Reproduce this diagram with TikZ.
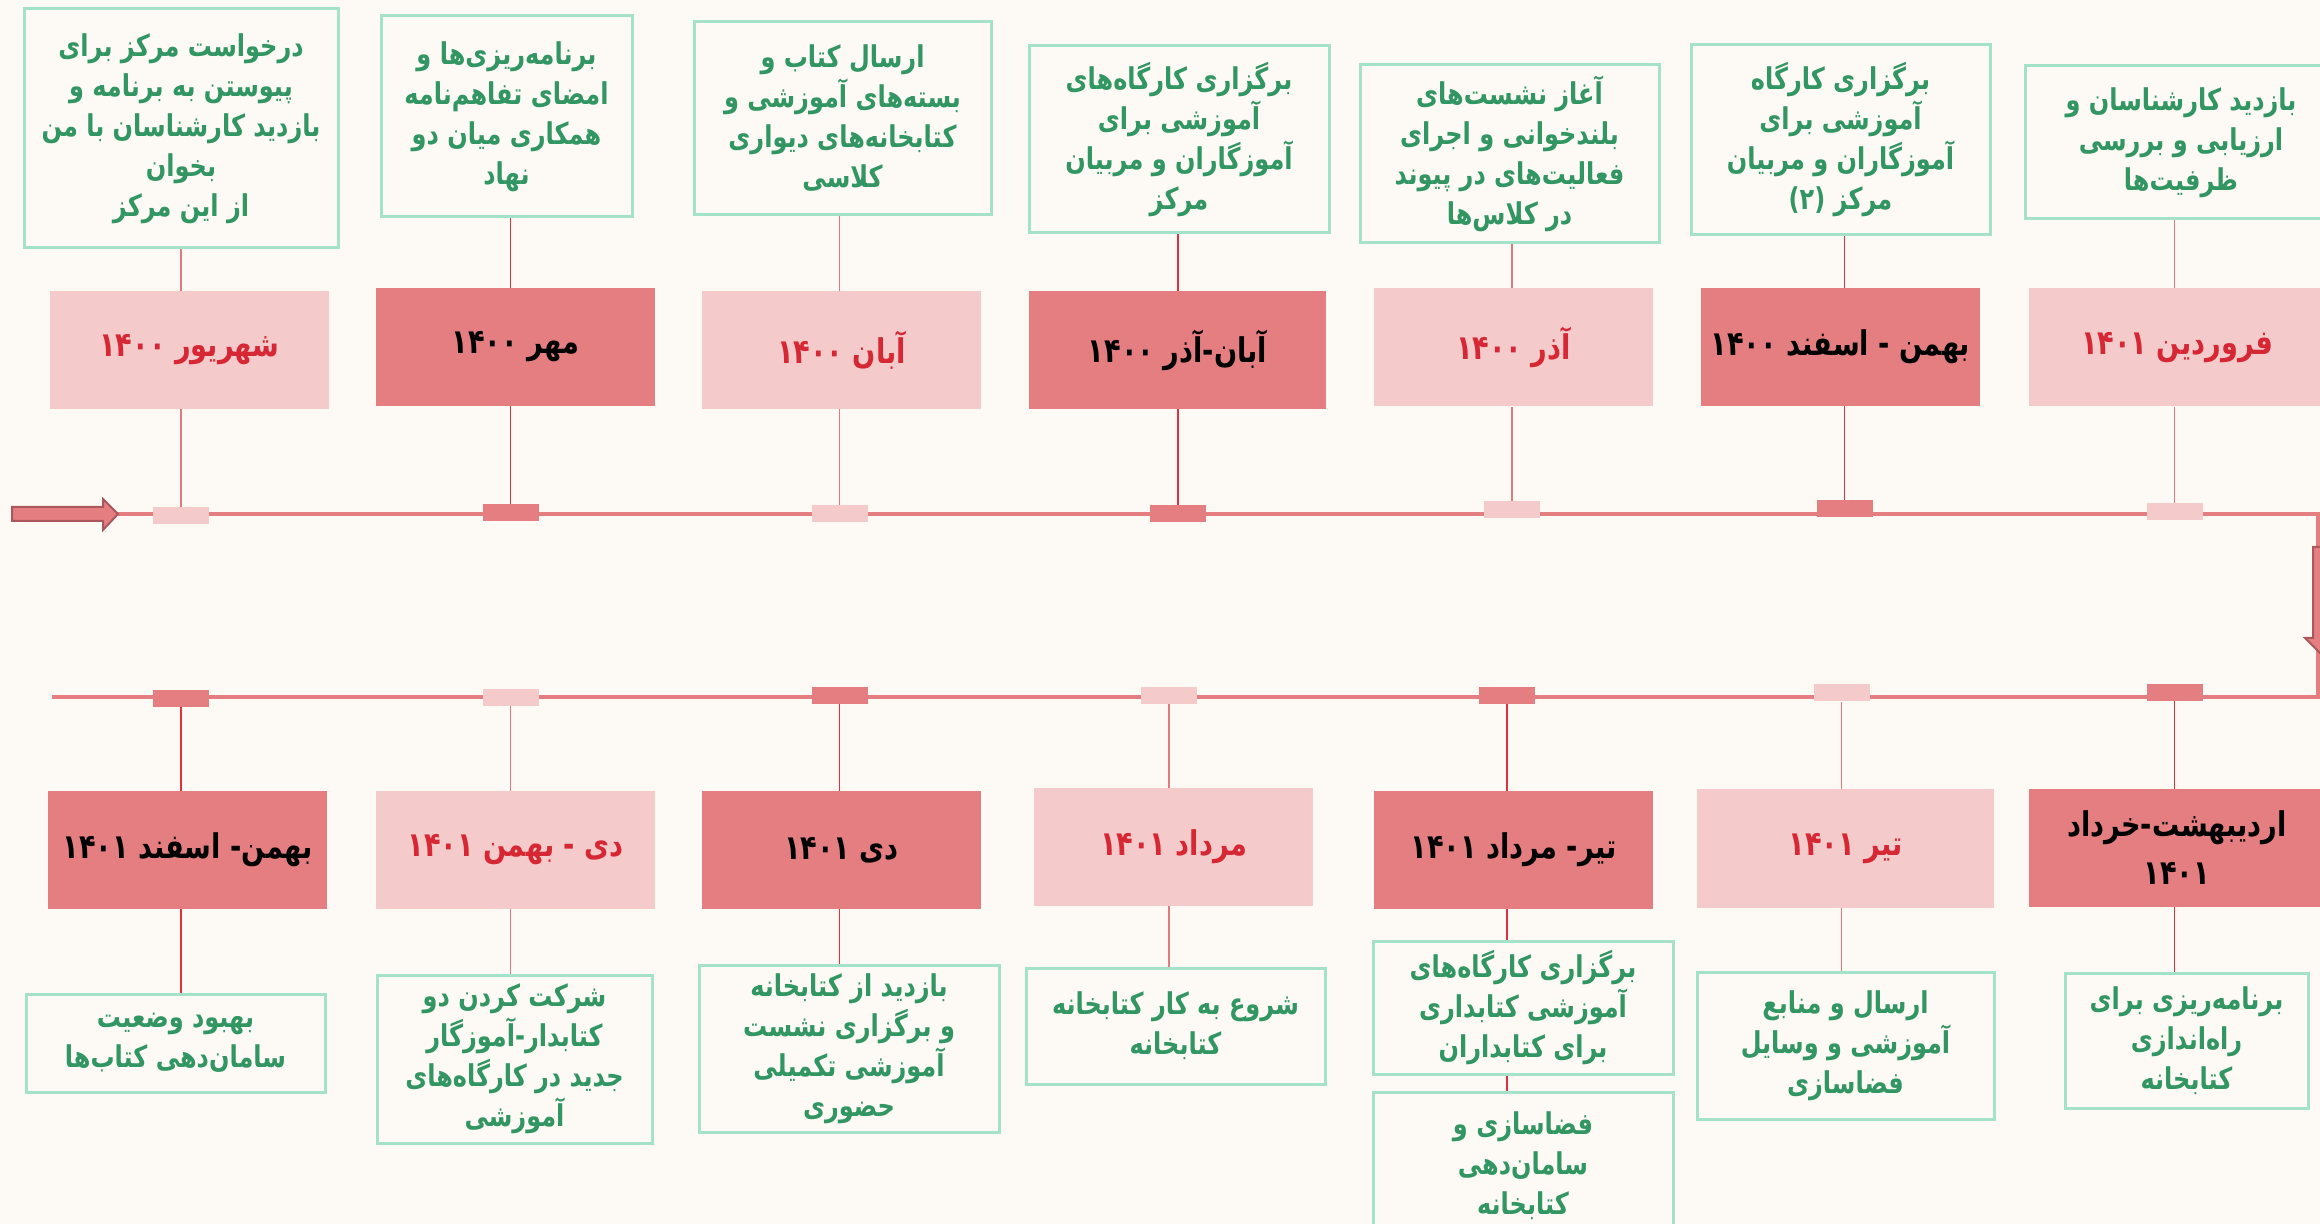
\documentclass[tikz,border=0pt]{standalone}
\usepackage{fontspec}
\usepackage{tikz}
\usetikzlibrary{calc}
\newfontfamily\fafont[Script=Arabic,FakeStretch=0.8]{DejaVu Sans}
\TeXXeTstate=1
\definecolor{paper}{RGB}{253,250,246}
\definecolor{rosedark}{RGB}{228,126,129}
\definecolor{roselight}{RGB}{245,202,203}
\definecolor{mint}{RGB}{164,226,201}
\definecolor{leaf}{RGB}{50,150,98}
\definecolor{crimson}{RGB}{214,40,52}
\definecolor{linkred}{RGB}{222,50,62}
\definecolor{linkpink}{RGB}{224,122,128}
\definecolor{arrowedge}{RGB}{170,88,92}
\newcommand{\pers}[1]{{\fafont\beginR #1\endR}}

\begin{document}
\begin{tikzpicture}[x=0.5pt,y=-0.5pt,
    note/.style={draw=mint,line width=1.5pt,fill=paper,text=leaf,align=center,inner sep=2pt,font=\fafont\bfseries\fontsize{15}{20}\selectfont},
    monthdark/.style={fill=rosedark,minimum width=139.5pt,minimum height=59pt,inner sep=0pt,align=center,font=\fafont\bfseries\fontsize{17}{24}\selectfont},
    monthlight/.style={monthdark,fill=roselight,text=crimson},
    mkdark/.style={fill=rosedark,minimum width=28pt,minimum height=8.5pt,inner sep=0pt},
    mklight/.style={mkdark,fill=roselight},
    linkdark/.style={draw=linkred,line width=0.7pt},
    linklight/.style={draw=linkpink,line width=0.7pt},
    timeline/.style={draw=rosedark,line width=2.4pt},
    bigarrow/.style={fill=rosedark,draw=arrowedge,line width=1pt}]
                                      \useasboundingbox (0,0) rectangle (2320,1224);
                                      \fill[paper] (0,0) rectangle (2320,1224);
                                      \coordinate (tip) at (118,514);
                                      \coordinate (turna) at (2318,514);
                                      \coordinate (turnb) at (2318,697);
                                      \coordinate (lineend) at (52,697);
                                      \draw[timeline] (tip) -- (turna) -- (turnb) -- (lineend);
                                      \draw[bigarrow] (12,507) -- (103,507) -- (103,499) -- (tip) -- (103,530) -- (103,521) -- (12,521) -- cycle;
                                      \draw[bigarrow] (2313,547) -- (2327,547) -- (2327,638) -- (2335,638) -- (2320,653) -- (2305,638) -- (2313,638) -- cycle;
                                      \node[note,minimum width=157pt,minimum height=119.5pt](t1)at(181,128.5){\pers{درخواست مرکز برای}\\\pers{پیوستن به برنامه و}\\\pers{بازدید کارشناسان با من}\\\pers{بخوان}\\\pers{از این مرکز}};
                                      \node[note,minimum width=125.5pt,minimum height=100.5pt](t2)at(506.5,116.5){\pers{برنامه‌ریزی‌ها و}\\\pers{امضای تفاهم‌نامه}\\\pers{همکاری میان دو}\\\pers{نهاد}};
                                      \node[note,minimum width=148.5pt,minimum height=96.5pt](t3)at(842.5,118.5){\pers{ارسال کتاب و}\\\pers{بسته‌های آموزشی و}\\\pers{کتابخانه‌های دیواری}\\\pers{کلاسی}};
                                      \node[note,minimum width=150pt,minimum height=93.5pt](t4)at(1179,139.5){\pers{برگزاری کارگاه‌های}\\\pers{آموزشی برای}\\\pers{آموزگاران و مربیان}\\\pers{مرکز}};
                                      \node[note,minimum width=149.5pt,minimum height=89pt](t5)at(1509.5,154){\pers{آغاز نشست‌های}\\\pers{بلندخوانی و اجرای}\\\pers{فعالیت‌های در پیوند}\\\pers{در کلاس‌ها}};
                                      \node[note,minimum width=149.5pt,minimum height=95pt](t6)at(1840.5,140){\pers{برگزاری کارگاه}\\\pers{آموزشی برای}\\\pers{آموزگاران و مربیان}\\\pers{مرکز (۲)}};
                                      \node[note,minimum width=156pt,minimum height=76.5pt](t7)at(2181,142.5){\pers{بازدید کارشناسان و}\\\pers{ارزیابی و بررسی}\\\pers{ظرفیت‌ها}};
                                      \node[monthlight](m1)at(189.5,350){\pers{شهریور ۱۴۰۰}};
                                      \node[monthdark](m2)at(515.5,347){\pers{مهر ۱۴۰۰}};
                                      \node[monthlight](m3)at(841.5,350){\pers{آبان ۱۴۰۰}};
                                      \node[monthdark,minimum width=148.5pt](m4)at(1177.5,350){\pers{آبان-آذر ۱۴۰۰}};
                                      \node[monthlight](m5)at(1513.5,347.5){\pers{آذر ۱۴۰۰}};
                                      \node[monthdark](m6)at(1840.5,347){\pers{بهمن - اسفند ۱۴۰۰}};
                                      \node[monthlight,minimum width=148pt](m7)at(2177,347.5){\pers{فروردین ۱۴۰۱}};
                                      \node[mklight](mk1)at(181,515.5){};
                                      \node[mkdark](mk2)at(510.5,512.5){};
                                      \node[mklight](mk3)at(839.5,513.5){};
                                      \node[mkdark](mk4)at(1178,513.5){};
                                      \node[mklight](mk5)at(1512,510){};
                                      \node[mkdark](mk6)at(1844.5,509){};
                                      \node[mklight](mk7)at(2174.5,512){};
                                      \draw[linklight](mk1.north|-t1.south)--(mk1.north|-m1.north);
                                      \draw[linklight](mk1.north|-m1.south)--(mk1.north);
                                      \draw[linkdark](mk2.north|-t2.south)--(mk2.north|-m2.north);
                                      \draw[linkdark](mk2.north|-m2.south)--(mk2.north);
                                      \draw[linklight](mk3.north|-t3.south)--(mk3.north|-m3.north);
                                      \draw[linklight](mk3.north|-m3.south)--(mk3.north);
                                      \draw[linkdark](mk4.north|-t4.south)--(mk4.north|-m4.north);
                                      \draw[linkdark](mk4.north|-m4.south)--(mk4.north);
                                      \draw[linklight](mk5.north|-t5.south)--(mk5.north|-m5.north);
                                      \draw[linklight](mk5.north|-m5.south)--(mk5.north);
                                      \draw[linkdark](mk6.north|-t6.south)--(mk6.north|-m6.north);
                                      \draw[linkdark](mk6.north|-m6.south)--(mk6.north);
                                      \draw[linklight](mk7.north|-t7.south)--(mk7.north|-m7.north);
                                      \draw[linklight](mk7.north|-m7.south)--(mk7.north);
                                      \node[monthdark](mb1)at(187.5,850){\pers{بهمن- اسفند ۱۴۰۱}};
                                      \node[monthlight](mb2)at(515.5,850){\pers{دی - بهمن ۱۴۰۱}};
                                      \node[monthdark](mb3)at(841.5,850){\pers{دی ۱۴۰۱}};
                                      \node[monthlight](mb4)at(1173.5,847){\pers{مرداد ۱۴۰۱}};
                                      \node[monthdark](mb5)at(1513.5,850){\pers{تیر- مرداد ۱۴۰۱}};
                                      \node[monthlight,minimum width=148.5pt](mb6)at(1845.5,848.5){\pers{تیر ۱۴۰۱}};
                                      \node[monthdark,minimum width=148pt](mb7)at(2177,848){\pers{اردیبهشت-خرداد}\\\pers{۱۴۰۱}};
                                      \node[note,minimum width=149.5pt,minimum height=49pt](d1)at(175.5,1043){\pers{بهبود وضعیت}\\\pers{سامان‌دهی کتاب‌ها}};
                                      \node[note,minimum width=137.5pt,minimum height=84pt](d2)at(514.5,1059){\pers{شرکت کردن دو}\\\pers{کتابدار-آموزگار}\\\pers{جدید در کارگاه‌های}\\\pers{آموزشی}};
                                      \node[note,minimum width=150pt,minimum height=83.5pt](d3)at(849,1048.5){\pers{بازدید از کتابخانه}\\\pers{و برگزاری نشست}\\\pers{آموزشی تکمیلی}\\\pers{حضوری}};
                                      \node[note,minimum width=149.5pt,minimum height=58pt](d4)at(1175.5,1026){\pers{شروع به کار کتابخانه}\\\pers{کتابخانه}};
                                      \node[note,minimum width=150pt,minimum height=66.5pt](d5)at(1523,1007.5){\pers{برگزاری کارگاه‌های}\\\pers{آموزشی کتابداری}\\\pers{برای کتابداران}};
                                      \node[note,minimum width=150pt,minimum height=74pt](d6)at(1523,1166){\pers{فضاسازی و}\\\pers{سامان‌دهی}\\\pers{کتابخانه}};
                                      \node[note,minimum width=148.5pt,minimum height=73.5pt](d7)at(1845.5,1045.5){\pers{ارسال و منابع}\\\pers{آموزشی و وسایل}\\\pers{فضاسازی}};
                                      \node[note,minimum width=121.5pt,minimum height=67.5pt](d8)at(2186.5,1040.5){\pers{برنامه‌ریزی برای}\\\pers{راه‌اندازی}\\\pers{کتابخانه}};
                                      \node[mkdark](mkb1)at(181,698.5){};
                                      \node[mklight](mkb2)at(510.5,697.5){};
                                      \node[mkdark](mkb3)at(839.5,695.5){};
                                      \node[mklight](mkb4)at(1169,695.5){};
                                      \node[mkdark](mkb5)at(1507,695.5){};
                                      \node[mklight](mkb6)at(1841.5,693){};
                                      \node[mkdark](mkb7)at(2174.5,692.5){};
                                      \draw[linkdark](mkb1.south)--(mkb1.south|-mb1.north);
                                      \draw[linkdark](mkb1.south|-mb1.south)--(mkb1.south|-d1.north);
                                      \draw[linklight](mkb2.south)--(mkb2.south|-mb2.north);
                                      \draw[linklight](mkb2.south|-mb2.south)--(mkb2.south|-d2.north);
                                      \draw[linkdark](mkb3.south)--(mkb3.south|-mb3.north);
                                      \draw[linkdark](mkb3.south|-mb3.south)--(mkb3.south|-d3.north);
                                      \draw[linklight](mkb4.south)--(mkb4.south|-mb4.north);
                                      \draw[linklight](mkb4.south|-mb4.south)--(mkb4.south|-d4.north);
                                      \draw[linkdark](mkb5.south)--(mkb5.south|-mb5.north);
                                      \draw[linkdark](mkb5.south|-mb5.south)--(mkb5.south|-d5.north);
                                      \draw[linkdark](mkb5.south|-d5.south)--(mkb5.south|-d6.north);
                                      \draw[linklight](mkb6.south)--(mkb6.south|-mb6.north);
                                      \draw[linklight](mkb6.south|-mb6.south)--(mkb6.south|-d7.north);
                                      \draw[linkdark](mkb7.south)--(mkb7.south|-mb7.north);
                                      \draw[linkdark](mkb7.south|-mb7.south)--(mkb7.south|-d8.north);
                                  \end{tikzpicture}
\end{document}
